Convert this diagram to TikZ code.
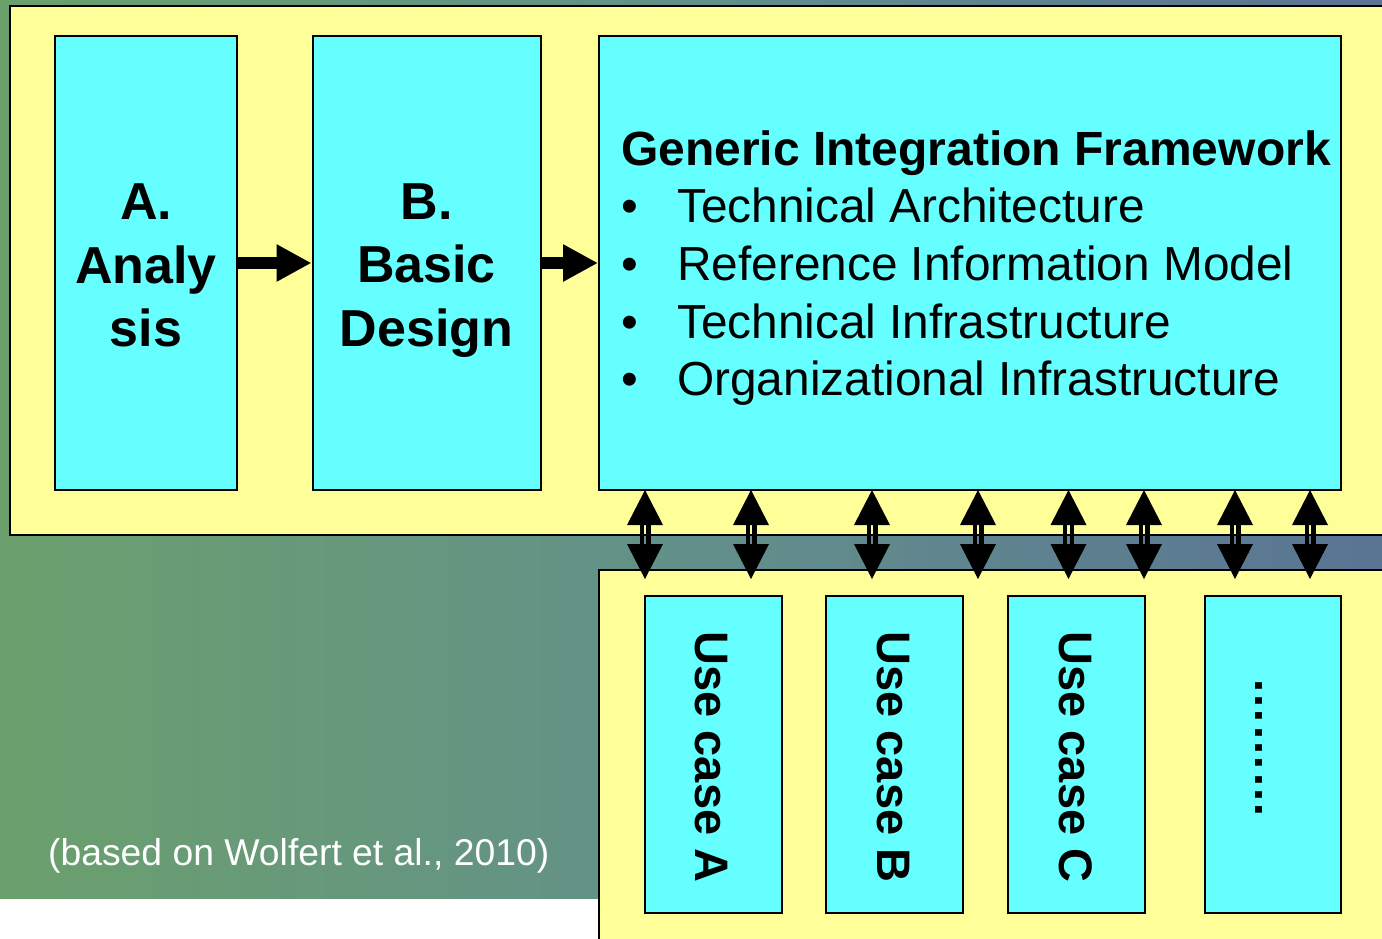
\documentclass[tikz,border=0pt]{standalone}
\usepackage{fontspec}
\setmainfont{Liberation Sans}
\usetikzlibrary{arrows.meta,calc}
\definecolor{ybg}{HTML}{FFFF99}
\definecolor{cbg}{HTML}{66FFFF}
\definecolor{bgl}{HTML}{6BA06D}
\definecolor{bgm}{HTML}{62908A}
\definecolor{bgr}{HTML}{5A7494}
\begin{document}
\begin{tikzpicture}[x=1pt,y=-1pt,
  panel/.style={draw=black,line width=2pt,fill=ybg},
  cbox/.style={draw=black,line width=2pt,fill=cbg,inner sep=0pt,rectangle},
  bigtxt/.style={font=\bfseries\fontsize{52}{63.5}\selectfont,align=center,inner sep=0pt},
  gtitle/.style={font=\bfseries\fontsize{48}{57.5}\selectfont,inner sep=0pt,anchor=base west},
  gitem/.style={font=\fontsize{47.8}{57.5}\selectfont,inner sep=0pt,anchor=base west},
  uctxt/.style={font=\bfseries\fontsize{47}{56}\selectfont,rotate=-90,inner sep=0pt},
  harrow/.style={line width=12pt,-{Triangle[width=35pt,length=35pt]}},
  shaftline/.style={line width=4.4pt},
  tip/.style={fill=black}
]
\useasboundingbox (0,0) rectangle (1382,938);
% background
\shade[left color=bgl,right color=bgr,middle color=bgm] (0,0) rectangle (1382,899);
\fill[white] (0,899) rectangle (1382,938);
% panels
\draw[panel] (10,6) rectangle (1400,535);
\draw[panel] (599,570) rectangle (1400,960);
% top boxes
\node[cbox,minimum width=182pt,minimum height=454pt] (A) at (146,263) {};
\node[cbox,minimum width=228pt,minimum height=454pt] (B) at (426.5,263) {};
\node[cbox,minimum width=742pt,minimum height=454pt] (GIF) at (970,263) {};
\node[bigtxt] (Atext) at (146,265.5) {A.\\Analy\\sis};
\node[bigtxt] (Btext) at (426.5,270.5) {B.\\Basic\\Design};
\node[gtitle] (gt) at (621,165) {Generic Integration Framework};
\node[gitem] (g1) at (621,222) {\makebox[56pt][l]{•}Technical Architecture};
\node[gitem] (g2) at (621,280) {\makebox[56pt][l]{•}Reference Information Model};
\node[gitem] (g3) at (621,338) {\makebox[56pt][l]{•}Technical Infrastructure};
\node[gitem] (g4) at (621,395) {\makebox[56pt][l]{•}Organizational Infrastructure};
% horizontal arrows
\draw[harrow] (A.east) -- (B.west);
\draw[harrow] (B.east) -- (GIF.west);
% use case boxes
\node[cbox,minimum width=137pt,minimum height=317pt] (UA) at (713.5,754.5) {};
\node[cbox,minimum width=137pt,minimum height=317pt] (UB) at (894.5,754.5) {};
\node[cbox,minimum width=137pt,minimum height=317pt] (UC) at (1076.5,754.5) {};
\node[cbox,minimum width=136pt,minimum height=317pt] (UD) at (1273,754.5) {};
\node[uctxt] (UAt) at (711.5,757) {Use case A};
\node[uctxt] (UBt) at (893.5,757) {Use case B};
\node[uctxt] (UCt) at (1075.5,757) {Use case C};
\node[uctxt] (UDt) at (1259,747.5) {………};
% double arrows
\foreach \i/\x in {1/645,2/751,3/872,4/978,5/1068.5,6/1144,7/1235,8/1310} {
  \coordinate (t\i) at (\x,490);
  \coordinate (b\i) at (\x,579);
  \fill[tip] (t\i) -- ++(-18,35) -- ++(36,0) -- cycle;
  \fill[tip] (b\i) -- ++(-18,-35) -- ++(36,0) -- cycle;
  \draw[shaftline] ($(t\i)+(-3.3,34)$) -- ($(b\i)+(-3.3,-34)$);
  \draw[shaftline] ($(t\i)+(3.3,34)$) -- ($(b\i)+(3.3,-34)$);
}
% citation
\node[anchor=base west,text=white,font=\fontsize{37.3}{44}\selectfont,inner sep=0pt] (cite) at (48,865) {(based on Wolfert et al., 2010)};
\end{tikzpicture}
\end{document}
